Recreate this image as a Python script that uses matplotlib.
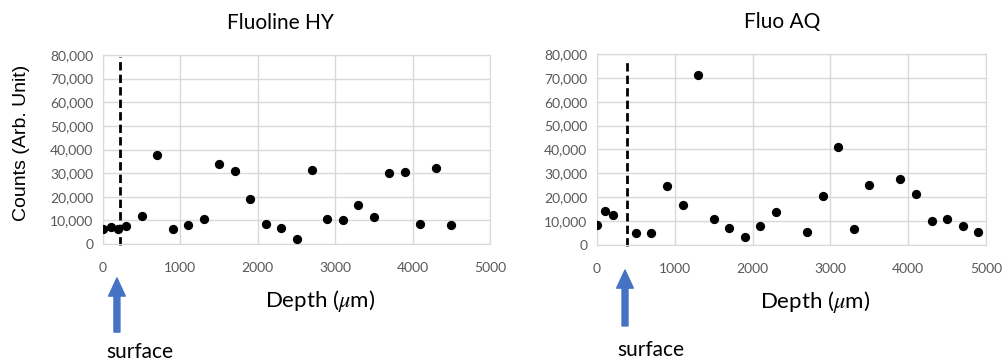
import matplotlib
matplotlib.use("Agg")
import matplotlib.pyplot as plt
from matplotlib.ticker import FuncFormatter

# depth in micrometres, counts in arbitrary units
hy_depth = [0, 100, 200, 300, 500, 700, 900, 1100, 1300, 1500, 1700, 1900,
            2100, 2300, 2500, 2700, 2900, 3100, 3300, 3500, 3700, 3900,
            4100, 4300, 4500]
hy_counts = [6300, 7300, 6200, 7700, 12000, 37500, 6300, 7900, 10600, 34000,
             30900, 18900, 8300, 6900, 2300, 31500, 10400, 10100, 16500,
             11400, 30000, 30300, 8300, 32200, 8000]

aq_depth = [0, 100, 200, 500, 700, 900, 1100, 1300, 1500, 1700, 1900, 2100,
            2300, 2700, 2900, 3100, 3300, 3500, 3900, 4100, 4300, 4500,
            4700, 4900]
aq_counts = [8100, 14100, 12300, 4900, 4900, 24700, 16500, 71200, 10900, 7100,
             3300, 7800, 13800, 5200, 20400, 41100, 6600, 24900, 27400, 21400,
             9900, 10600, 7900, 5300]

hy_surface = 220
aq_surface = 380

plt.rcParams['mathtext.fontset'] = 'stix'

W, H = 1003, 363
fig = plt.figure(figsize=(W / 100, H / 100), dpi=100)


def make_axes(px_left, px_right, px_bottom, px_top):
    return fig.add_axes([px_left / W, (H - px_bottom) / H,
                         (px_right - px_left) / W, (px_bottom - px_top) / H])


ax1 = make_axes(103, 490, 244, 55)
ax2 = make_axes(597, 986, 244.7, 54)

# ax, x, y, surface line, title, title x, line top, arrow x, arrow tip/base, surface text x/y
panels = [
    (ax1, hy_depth, hy_counts, hy_surface, 'Fluoline HY', 0.458, 79000,
     180, (-0.18, -0.466), 480, -0.57),
    (ax2, aq_depth, aq_counts, aq_surface, 'Fluo AQ', 0.475, 77200,
     360, (-0.133, -0.426), 690, -0.55),
]

for ax, x, y, surf, title, tx, top, arr_x, (tip, base), sx, sy in panels:
    ax.set_xlim(0, 5000)
    ax.set_ylim(0, 80000)
    ax.set_xticks(range(0, 5001, 1000))
    ax.set_yticks(range(0, 80001, 10000))
    ax.yaxis.set_major_formatter(FuncFormatter(lambda v, p: f'{int(v):,}'))
    ax.grid(True, color='#d9d9d9', linewidth=1)
    ax.set_axisbelow(True)
    for s in ax.spines.values():
        s.set_color('#d9d9d9')
    ax.tick_params(length=0, labelcolor='#595959', labelsize=10)
    ax.tick_params(axis='x', pad=13)
    ax.tick_params(axis='y', pad=7)
    for lab in ax.get_xticklabels() + ax.get_yticklabels():
        lab.set_family('Lato')

    ax.scatter(x, y, s=32, color='black', zorder=3)
    ax.plot([surf, surf], [-400, top], color='black', linewidth=2,
            linestyle=(0, (3, 1.5)), clip_on=False, zorder=2)

    ax.text(tx, 1.17, title, transform=ax.transAxes, family='Lato',
            fontsize=15, ha='center', va='center')
    ax.text(0.56, -0.3, r'Depth ($\mu$m)', transform=ax.transAxes,
            family='Lato', fontsize=16, ha='center', va='center')

    ax.annotate('', xy=(arr_x, tip), xytext=(arr_x, base),
                xycoords=('data', 'axes fraction'),
                textcoords=('data', 'axes fraction'),
                annotation_clip=False,
                arrowprops=dict(arrowstyle='simple,head_length=1.3,head_width=1.2,tail_width=0.43',
                                color='#4472C4', mutation_scale=10,
                                shrinkA=0, shrinkB=0))
    ax.text(sx, sy, 'surface', transform=ax.get_xaxis_transform(),
            family='Lato', fontsize=15, ha='center', va='center')

fig.text(22 / W, 1 - 143 / H, 'Counts (Arb. Unit)', family='Liberation Sans',
         fontsize=14, rotation=90, ha='center', va='center')

fig.savefig('out.png', dpi=100)
